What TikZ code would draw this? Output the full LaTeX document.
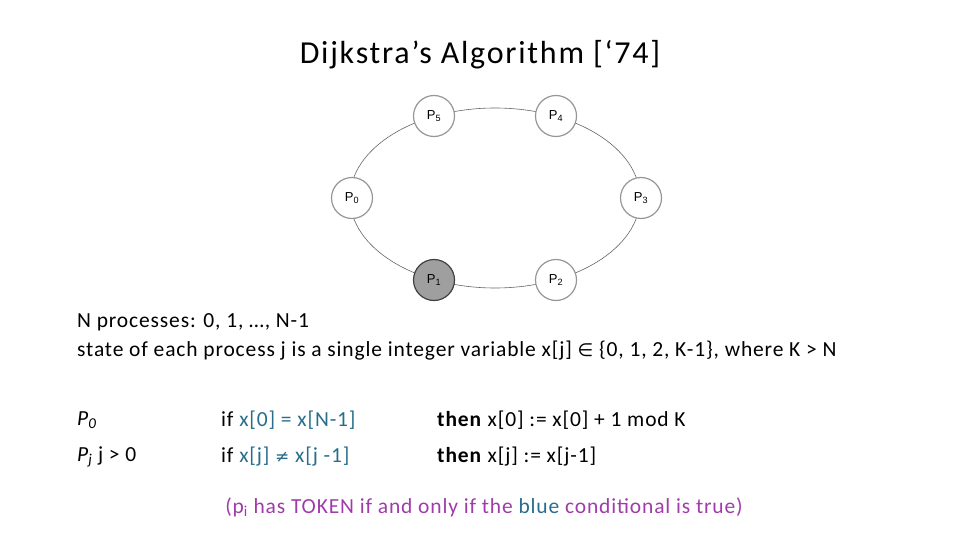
\documentclass[tikz,border=0pt]{standalone}
\usepackage{fontspec}
\setmainfont{Carlito}[LetterSpace=4]
\newfontfamily\nodefont{Liberation Sans}
\newfontfamily\symfont{DejaVu Sans}
\definecolor{condblue}{RGB}{40,110,140}
\definecolor{tokpurple}{RGB}{160,60,170}
\definecolor{ringgray}{RGB}{150,150,150}
\begin{document}
\begin{tikzpicture}[x=1pt,y=-1pt,
  proc/.style={circle,draw=ringgray,line width=1.2pt,fill=white,minimum size=41pt,inner sep=0pt,font=\nodefont\fontsize{13}{14}\selectfont},
  txt/.style={anchor=west,inner sep=0pt,font=\fontsize{21.5}{24}\selectfont}]
\useasboundingbox (0,0) rectangle (960,540);
\node[font=\fontsize{32}{36}\selectfont\addfontfeatures{LetterSpace=5.5}] (title) at (480,55) {Dijkstra’s Algorithm [‘74]};
\draw[gray!80!black,line width=0.6pt] (495,198) ellipse [x radius=145, y radius=90];
\node[proc] (p5) at (434,116) {P\textsubscript{5}};
\node[proc] (p4) at (556,116) {P\textsubscript{4}};
\node[proc] (p0) at (352,198) {P\textsubscript{0}};
\node[proc] (p3) at (641,198) {P\textsubscript{3}};
\node[proc,fill=gray!75,draw=black!75] (p1) at (434,280) {P\textsubscript{1}};
\node[proc] (p2) at (556,280) {P\textsubscript{2}};
\node[txt] (l1) at (77,322) {N processes: 0, 1, \ldots, N-1};
\node[txt] (l2) at (77,351) {state of each process j is a single integer variable x[j] {\symfont\fontsize{18}{20}\selectfont∈} \{0, 1, 2, K-1\}, where K > N};
\node[txt] (a1) at (77,420) {\textit{P\textsubscript{0}}};
\node[txt] (a2) at (77,457) {\textit{P\textsubscript{j}} j > 0};
\node[txt] (b1) at (221,420) {if \textcolor{condblue}{x[0] = x[N-1]}};
\node[txt] (b2) at (221,457) {if \textcolor{condblue}{x[j] {\symfont\fontsize{17}{20}\selectfont≠} x[j -1]}};
\node[txt] (c1) at (437,420) {\textbf{then} x[0] := x[0] + 1 mod K};
\node[txt] (c2) at (437,457) {\textbf{then} x[j] := x[j-1]};
\node[inner sep=0pt,font=\fontsize{21.5}{24}\selectfont,text=tokpurple] (note) at (484,507) {(p\textsubscript{i} has TOKEN if and only if the \textcolor{condblue}{blue} conditional is true)};
\end{tikzpicture}
\end{document}
